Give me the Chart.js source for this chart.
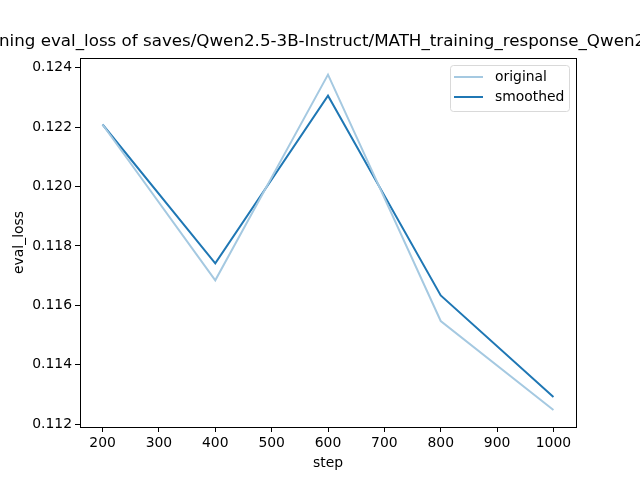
<!DOCTYPE html>
<html>
<head>
<meta charset="utf-8">
<script src="https://cdn.jsdelivr.net/npm/chart.js@4/dist/chart.umd.min.js"></script>
<style>
  html, body { margin: 0; padding: 0; background: #fff; }
  canvas { display: block; }
</style>
</head>
<body>
<canvas id="chart" width="640" height="480"></canvas>
<script>
const steps = [200, 400, 600, 800, 1000];
const original = [0.12209, 0.11684, 0.12377, 0.11547, 0.11247];
const smoothed = [0.12209, 0.11741, 0.12306, 0.11633, 0.11291];
const xTicks = [200, 300, 400, 500, 600, 700, 800, 900, 1000];
const yTicks = [0.112, 0.114, 0.116, 0.118, 0.120, 0.122, 0.124];
const titleText = "training eval_loss of saves/Qwen2.5-3B-Instruct/MATH_training_response_Qwen2.5-3B-Instruct";

const FONT = "'DejaVu Sans', sans-serif";

// !======= title + legend drawn matplotlib style =======
const mplDecor = {
  id: "mplDecor",
  afterDraw(chart) {
    const ctx = chart.ctx;
    ctx.save();
    ctx.font = "16.7px " + FONT;
    ctx.fillStyle = "#000";
    ctx.textBaseline = "alphabetic";
    ctx.textAlign = "left";
    const skip = ctx.measureText("trai").width;
    ctx.fillText(titleText, -skip - 1, 46);

    // legend
    const bx = 450.5, by = 65.5, bw = 119, bh = 46;
    ctx.strokeStyle = "#d9d9d9";
    ctx.lineWidth = 1;
    ctx.fillStyle = "rgba(255,255,255,0.8)";
    ctx.beginPath();
    ctx.roundRect(bx, by, bw, bh, 3);
    ctx.fill();
    ctx.stroke();
    ctx.font = "13.9px " + FONT;
    ctx.textBaseline = "middle";
    chart.data.datasets.forEach((ds, i) => {
      const y = 77 + i * 20;
      ctx.strokeStyle = ds.borderColor;
      ctx.lineWidth = 2;
      ctx.beginPath();
      ctx.moveTo(454, y);
      ctx.lineTo(483, y);
      ctx.stroke();
      ctx.fillStyle = "#000";
      ctx.fillText(ds.label, 495, y);
    });
    ctx.restore();
  },
};

new Chart(document.getElementById("chart"), {
  type: "line",
  data: {
    datasets: [
      {
        label: "original",
        data: steps.map((s, i) => ({ x: s, y: original[i] })),
        borderColor: "#a5c9e1",
        borderWidth: 2,
        pointRadius: 0,
        tension: 0,
        fill: false,
      },
      {
        label: "smoothed",
        data: steps.map((s, i) => ({ x: s, y: smoothed[i] })),
        borderColor: "#1f77b4",
        borderWidth: 2,
        pointRadius: 0,
        tension: 0,
        fill: false,
      },
    ],
  },
  options: {
    responsive: false,
    animation: false,
    layout: { padding: { left: 0, right: 64, top: 58, bottom: 0 } },
    plugins: {
      legend: { display: false },
      title: { display: false },
      tooltip: { enabled: false },
    },
    scales: {
      x: {
        type: "linear",
        min: 160,
        max: 1040,
        afterBuildTicks: (axis) => {
          axis.ticks = xTicks.map((v) => ({ value: v }));
        },
        afterFit: (axis) => {
          axis.height = 53;
        },
        border: { display: true, color: "#000", width: 1 },
        grid: { drawOnChartArea: false, tickLength: 5, color: "#000" },
        ticks: {
          color: "#000",
          font: { family: FONT, size: 13.9 },
          padding: 3,
          maxRotation: 0,
          callback: (v) => String(v),
        },
        title: {
          display: true,
          text: "step",
          color: "#000",
          font: { family: FONT, size: 13.9 },
          padding: { top: 2, bottom: 8 },
        },
      },
      y: {
        min: 0.1119,
        max: 0.12433,
        afterBuildTicks: (axis) => {
          axis.ticks = yTicks.map((v) => ({ value: v }));
        },
        afterFit: (axis) => {
          axis.width = 80;
        },
        border: { display: true, color: "#000", width: 1 },
        grid: { drawOnChartArea: false, tickLength: 5, color: "#000" },
        ticks: {
          color: "#000",
          font: { family: FONT, size: 13.9 },
          padding: 3,
          callback: (v) => v.toFixed(3),
        },
        title: {
          display: true,
          text: "eval_loss",
          color: "#000",
          font: { family: FONT, size: 13.9 },
          padding: { top: 11, bottom: 4 },
        },
      },
    },
  },
  plugins: [
    mplDecor,
    {
      id: "frame",
      afterDatasetsDraw(chart) {
        const { ctx, chartArea: a } = chart;
        ctx.save();
        ctx.strokeStyle = "#000";
        ctx.lineWidth = 1;
        ctx.strokeRect(Math.round(a.left) + 0.5, Math.round(a.top) + 0.5,
          Math.round(a.right - a.left), Math.round(a.bottom - a.top));
        ctx.restore();
      },
    },
  ],
});
</script>
</body>
</html>
